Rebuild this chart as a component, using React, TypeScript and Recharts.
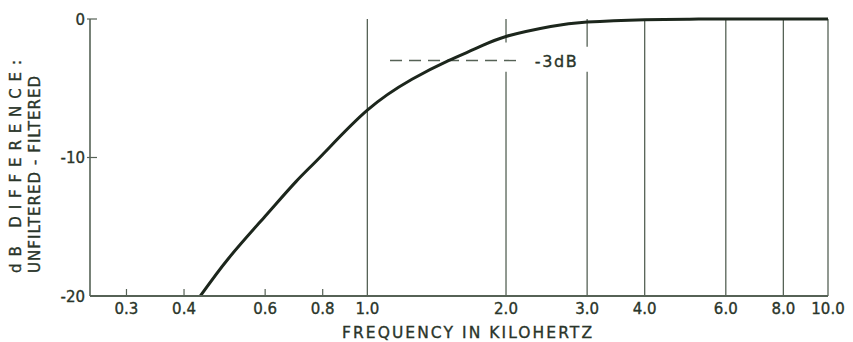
import React from 'react';
import { LineChart, Line, XAxis, YAxis, ReferenceLine, ReferenceDot } from 'recharts';

const frequencies = [0.434, 0.5, 0.6, 0.7, 0.8, 1.0, 1.25, 1.5, 1.75, 2.0, 2.5, 3.0, 4.0, 5.0, 6.0, 8.0, 10.0];
const dbDifference = [-20, -17.27, -14.24, -11.74, -9.78, -6.58, -4.35, -3.0, -2.02, -1.26, -0.54, -0.22, -0.05, -0.01, 0, 0, 0];
const xTicks = [0.3, 0.4, 0.6, 0.8, 1.0, 2.0, 3.0, 4.0, 6.0, 8.0, 10.0];
const yTicks = [-20, -10, 0];
const gridFull = [1.0, 4.0, 6.0, 8.0, 10.0];
const gridBroken = [
  { f: 2.0, lowTop: -3.8, highBottom: -1.7 },
  { f: 3.0, lowTop: -3.8, highBottom: -2.0 },
];
const minus3 = { from: 1.12, to: 2.11, level: -3, labelAt: 2.31, label: '-3dB' };

const data = frequencies.map((f, i) => ({ f, db: dbDifference[i] }));

const INK = '#2a352a';
const LINE = '#566256';
const FONT = '"DejaVu Sans", sans-serif';

const fmtX = (v: number) => v.toFixed(1);

const txt = { fill: INK, fontFamily: FONT, stroke: INK, strokeWidth: 0.35 } as const;

const XTick = (props: any) => {
  const { x, y, payload } = props;
  const v = payload.value as number;
  return (
    <g>
      {v < 1 && <line x1={x} x2={x} y1={y} y2={y - 7} stroke={LINE} strokeWidth={1.2} />}
      <text x={x} y={y + 18} textAnchor="middle" fontSize={15} {...txt}>
        {fmtX(v)}
      </text>
    </g>
  );
};

const YTick = (props: any) => {
  const { x, y, payload } = props;
  const v = payload.value as number;
  return (
    <g>
      {v > -20 && <line x1={x - 3} x2={x + 7} y1={y} y2={y} stroke={LINE} strokeWidth={1.2} />}
      <text x={x - 5} y={y + 5.5} textAnchor="end" fontSize={15} {...txt}>
        {v}
      </text>
    </g>
  );
};

const XTitle = () => (
  <text x={342} y={337.5} fontSize={15.5} textLength={250} lengthAdjust="spacing" {...txt}>
    FREQUENCY IN KILOHERTZ
  </text>
);

const YTitle = () => (
  <g>
    <text transform="translate(20.5,273) rotate(-90)" fontSize={15} textLength={213} lengthAdjust="spacing" {...txt}>
      dB DIFFERENCE:
    </text>
    <text transform="translate(39.5,273) rotate(-90)" fontSize={15} textLength={197} lengthAdjust="spacing" {...txt}>
      UNFILTERED - FILTERED
    </text>
  </g>
);

export default function App() {
  return (
    <div style={{ position: 'absolute', left: 0, top: 0, background: '#fff' }}>
      <LineChart width={853} height={342} data={data} margin={{ top: 19, right: 25, bottom: 0, left: 0 }}>
        <XAxis
          dataKey="f"
          type="number"
          scale="log"
          domain={[0.25, 10]}
          allowDataOverflow
          ticks={xTicks}
          tick={<XTick />}
          tickLine={false}
          tickSize={0}
          tickMargin={0}
          height={46}
          axisLine={{ stroke: LINE, strokeWidth: 2 }}
          interval={0}
          label={{ content: () => <XTitle /> }}
        />
        <YAxis
          type="number"
          domain={[-20, 0]}
          ticks={yTicks}
          tick={<YTick />}
          tickLine={false}
          tickSize={0}
          tickMargin={0}
          width={90}
          axisLine={{ stroke: LINE, strokeWidth: 1.6 }}
          interval={0}
          label={{ content: () => <YTitle /> }}
        />
        {gridFull.map((f) => (
          <ReferenceLine key={'g' + f} segment={[{ x: f, y: -20 }, { x: f, y: 0 }]} stroke={LINE} strokeWidth={1.3} />
        ))}
        {gridBroken.map((g) => (
          <ReferenceLine key={'bl' + g.f} segment={[{ x: g.f, y: -20 }, { x: g.f, y: g.lowTop }]} stroke={LINE} strokeWidth={1.3} />
        ))}
        {gridBroken.map((g) => (
          <ReferenceLine key={'bh' + g.f} segment={[{ x: g.f, y: g.highBottom }, { x: g.f, y: 0 }]} stroke={LINE} strokeWidth={1.3} />
        ))}
        <ReferenceLine
          segment={[{ x: minus3.from, y: minus3.level }, { x: minus3.to, y: minus3.level }]}
          stroke={LINE}
          strokeWidth={1.4}
          strokeDasharray="12 7"
        />
        <ReferenceDot
          x={minus3.labelAt}
          y={minus3.level}
          r={0}
          shape={(p: any) => (
            <text x={p.cx} y={p.cy + 6} fontSize={16} textLength={42} lengthAdjust="spacing" {...txt}>
              {minus3.label}
            </text>
          )}
        />
        <Line
          type="natural"
          dataKey="db"
          stroke="#1c261c"
          strokeWidth={3}
          dot={false}
          isAnimationActive={false}
        />
      </LineChart>
    </div>
  );
}
